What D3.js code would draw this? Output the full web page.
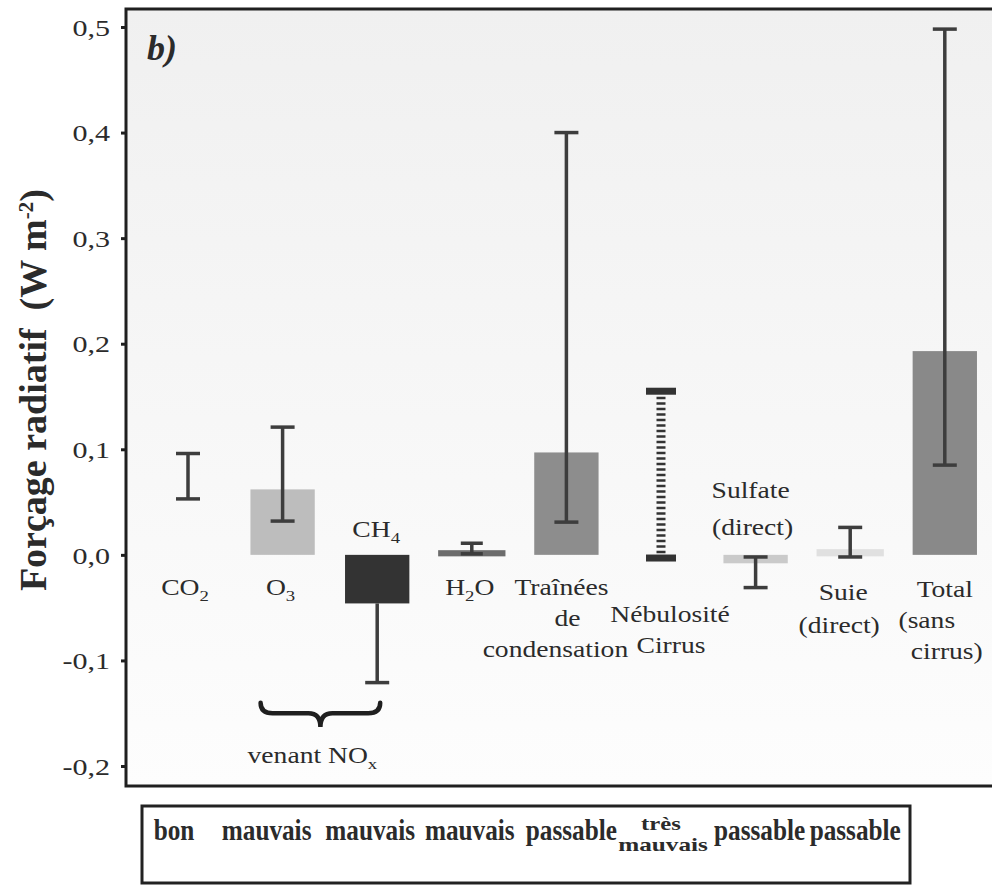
<!DOCTYPE html>
<meta charset="utf-8">
<style>
    body { margin: 0; background: #fff; }
    text { font-family: "Liberation Serif", "Times New Roman", serif; fill: #2b2b2b; }
</style>
<body>

<script src="https://d3js.org/d3.v7.min.js"></script>
<script>
    // data
    var categories = ["CO2", "O3", "CH4", "H2O", "Traînées", "Nébulosité", "Sulfate", "Suie", "Total"];
    var barValues  = [null, 0.062, -0.046, 0.003, 0.097, null, -0.008, 0.004, 0.193];
    var errLow     = [0.053, 0.032, -0.121, 0.001, 0.031, -0.003, -0.031, -0.002, 0.085];
    var errHigh    = [0.096, 0.121, -0.040, 0.011, 0.400, 0.155, -0.002, 0.026, 0.498];
    var catLabels  = [["CO_2"], ["O_3"], ["CH_4"], ["H_2O"], ["Traînées", "de", "condensation"],
                      ["Nébulosité", "Cirrus"], ["Sulfate", "(direct)"], ["Suie", "(direct)"],
                      ["Total", "(sans", "cirrus)"]];
    var quality    = [["bon"], ["mauvais"], ["mauvais"], ["mauvais"], ["passable"],
                      ["très", "mauvais"], ["passable"], ["passable"]];
    var yTicks     = [-0.2, -0.1, 0, 0.1, 0.2, 0.3, 0.4, 0.5];

    // styles / layout
    var barColor = {"O3": "#bdbdbd", "CH4": "#333333", "H2O": "#6c6c6c", "Traînées": "#8d8d8d",
                    "Sulfate": "#cacaca", "Suie": "#e0e0e0", "Total": "#898989"};
    // baseline offset from y(0), line gap, per-line dx
    var labelLayout = [
        {top: 40, gap: 31, dx: [-3]},
        {top: 40, gap: 31, dx: [-2]},
        {top: -18, gap: 31, dx: [-1]},
        {top: 40, gap: 31, dx: [-2]},
        {top: 40, gap: 31, dx: [-5, 1, -11]},
        {top: 67, gap: 31, dx: [9, 10]},
        {top: -57, gap: 37, dx: [-5, -3]},
        {top: 45, gap: 33, dx: [-7, -11]},
        {top: 42, gap: 31, dx: [0, -18, 2]}
    ];
    var qualityDx = [-14, -16, -7, -2, 5, 2, 4, 5];

    var W = 992, H = 885;
    var frame = {left: 126, top: 9, bottom: 786};

    var svg = d3.select("body").append("svg")
        .attr("width", W)
        .attr("height", H);

    var x = d3.scaleBand()
        .domain(categories)
        .range([140.7, 992.1])
        .paddingInner(0.32)
        .paddingOuter(0.16);

    var y = d3.scaleLinear()
        .domain([-0.2, 0.5])
        .range([766, 27]);

    var cx = d => x(d) + x.bandwidth() / 2;

    // text helper: "_x" means subscript x
    function addText(g, str, px, py, o) {
        o = o || {};
        var t = g.append("text")
            .attr("transform", "translate(" + px + "," + py + ") scale(" + (o.sx || 1.2) + "," + (o.sy || 1) + ")")
            .attr("text-anchor", o.anchor || "middle")
            .style("font-size", (o.size || 23) + "px")
            .style("font-weight", o.weight || "normal");
        var parts = str.split(/_(.)/);
        var shift = 0;
        parts.forEach((p, i) => {
            if (!p) return;
            if (i % 2 === 1) {
                t.append("tspan").attr("dy", 6).style("font-size", "0.68em").text(p);
                shift = -6;
            } else {
                t.append("tspan").attr("dy", shift || null).text(p);
                shift = 0;
            }
        });
        return t;
    }

    // plot background + frame
    var grad = svg.append("defs").append("linearGradient")
        .attr("id", "bg").attr("x1", 0).attr("y1", 0).attr("x2", 0).attr("y2", 1);
    grad.append("stop").attr("offset", "0%").attr("stop-color", "#f0f0f0");
    grad.append("stop").attr("offset", "45%").attr("stop-color", "#f6f6f6");
    grad.append("stop").attr("offset", "100%").attr("stop-color", "#fdfdfd");

    svg.append("rect")
        .attr("x", frame.left).attr("y", frame.top)
        .attr("width", W - frame.left + 10).attr("height", frame.bottom - frame.top)
        .attr("fill", "url(#bg)")
        .attr("stroke", "#1f1f1f")
        .attr("stroke-width", 3);

    // bars
    var bars = categories.map((c, i) => ({c: c, v: barValues[i]})).filter(d => d.v !== null);
    svg.selectAll(".bar").data(bars).enter().append("rect")
        .attr("class", "bar")
        .attr("x", d => x(d.c))
        .attr("width", x.bandwidth())
        .attr("y", d => y(Math.max(0, d.v)))
        .attr("height", d => Math.abs(y(d.v) - y(0)))
        .attr("fill", d => barColor[d.c])
        .attr("stroke", d => Math.abs(d.v) < 0.005 ? barColor[d.c] : "none")
        .attr("stroke-width", 3);

    // error bars
    var errs = categories.map((c, i) => ({c: c, lo: errLow[i], hi: errHigh[i], v: barValues[i]}));
    errs.forEach(d => {
        var dashed = d.c === "Nébulosité";
        var capW = dashed ? 30 : (d.c === "H2O" ? 22 : 24);
        var capS = dashed ? 7 : 3.5;
        var col = dashed ? "#333" : "#3d3d3d";
        // upper end hidden inside a dark negative bar
        var hidden = d.v !== null && d.v < -0.02 && d.hi < 0 && d.hi > d.v;
        var top = hidden ? d.v : d.hi;
        svg.append("line")
            .attr("x1", cx(d.c)).attr("x2", cx(d.c))
            .attr("y1", y(top)).attr("y2", y(d.lo))
            .attr("stroke", col)
            .attr("stroke-width", dashed ? 9 : 3.5)
            .attr("stroke-dasharray", dashed ? "2.5,3" : null);
        (hidden ? [d.lo] : [d.lo, d.hi]).forEach(v => {
            svg.append("line")
                .attr("x1", cx(d.c) - capW / 2).attr("x2", cx(d.c) + capW / 2)
                .attr("y1", y(v)).attr("y2", y(v))
                .attr("stroke", col)
                .attr("stroke-width", capS);
        });
    });

    // y axis
    var yAxis = svg.append("g")
        .attr("transform", "translate(" + frame.left + ",0)")
        .call(d3.axisLeft(y).tickValues(yTicks).tickSize(5)
            .tickFormat(d => d3.format(".1f")(d).replace(".", ",").replace("\u2212", "-")));
    yAxis.select(".domain").remove();
    yAxis.selectAll(".tick line").attr("stroke", "#1f1f1f").attr("stroke-width", 3);
    yAxis.selectAll(".tick text")
        .attr("x", 0).attr("dy", "0.35em")
        .attr("transform", "translate(-16,0) scale(1.28,1)")
        .attr("fill", "#333")
        .style("font-size", "23.5px");

    // y label
    var yl = svg.append("text")
        .attr("transform", "translate(46," + y(0.156) + ") rotate(-90)")
        .attr("text-anchor", "middle")
        .style("font-size", "38px")
        .style("font-weight", "bold");
    yl.append("tspan").text("Forçage radiatif");
    yl.append("tspan").attr("dx", 18).text("(W m");
    yl.append("tspan").attr("dy", -13).style("font-size", "0.55em").text("-2");
    yl.append("tspan").attr("dy", 13).text(")");

    // panel tag
    svg.append("text")
        .attr("x", 147).attr("y", 60)
        .style("font-size", "36px")
        .style("font-weight", "bold")
        .style("font-style", "italic")
        .text("b)");

    // category labels
    var lab = svg.append("g");
    categories.forEach((c, i) => {
        var L = labelLayout[i];
        catLabels[i].forEach((s, j) => {
            addText(lab, s, cx(c) + L.dx[j], y(0) + L.top + j * L.gap);
        });
    });

    // brace under O3 / CH4
    var bx0 = cx("O3") - 22, bx1 = cx("CH4") + 3, bm = (bx0 + bx1) / 2;
    var yE = y(-0.14), yB = y(-0.15), yT = y(-0.163);
    var p = d3.path();
    p.moveTo(bx0, yE);
    p.quadraticCurveTo(bx0, yB, bx0 + 12, yB);
    p.lineTo(bm - 12, yB);
    p.quadraticCurveTo(bm, yB, bm, yT);
    p.quadraticCurveTo(bm, yB, bm + 12, yB);
    p.lineTo(bx1 - 12, yB);
    p.quadraticCurveTo(bx1, yB, bx1, yE);
    svg.append("path")
        .attr("d", p.toString())
        .attr("fill", "none")
        .attr("stroke", "#1f1f1f")
        .attr("stroke-width", 4.5)
        .attr("stroke-linecap", "round");
    addText(svg, "venant NO_x", bm - 8, y(-0.197));

    // quality table
    svg.append("rect")
        .attr("x", 142).attr("y", 806)
        .attr("width", 768).attr("height", 77)
        .attr("fill", "#fff")
        .attr("stroke", "#222")
        .attr("stroke-width", 3);
    quality.forEach((q, i) => {
        var qx = cx(categories[i]) + qualityDx[i];
        if (q.length === 1) {
            addText(svg, q[0], qx, 840, {size: 29, sx: 0.87, weight: "bold"});
        } else {
            addText(svg, q[0], qx - 2, 830, {size: 26, sx: 0.95, sy: 0.72, weight: "bold"});
            addText(svg, q[1], qx, 851, {size: 26, sx: 0.97, sy: 0.72, weight: "bold"});
        }
    });
</script>

</body>
</html>
